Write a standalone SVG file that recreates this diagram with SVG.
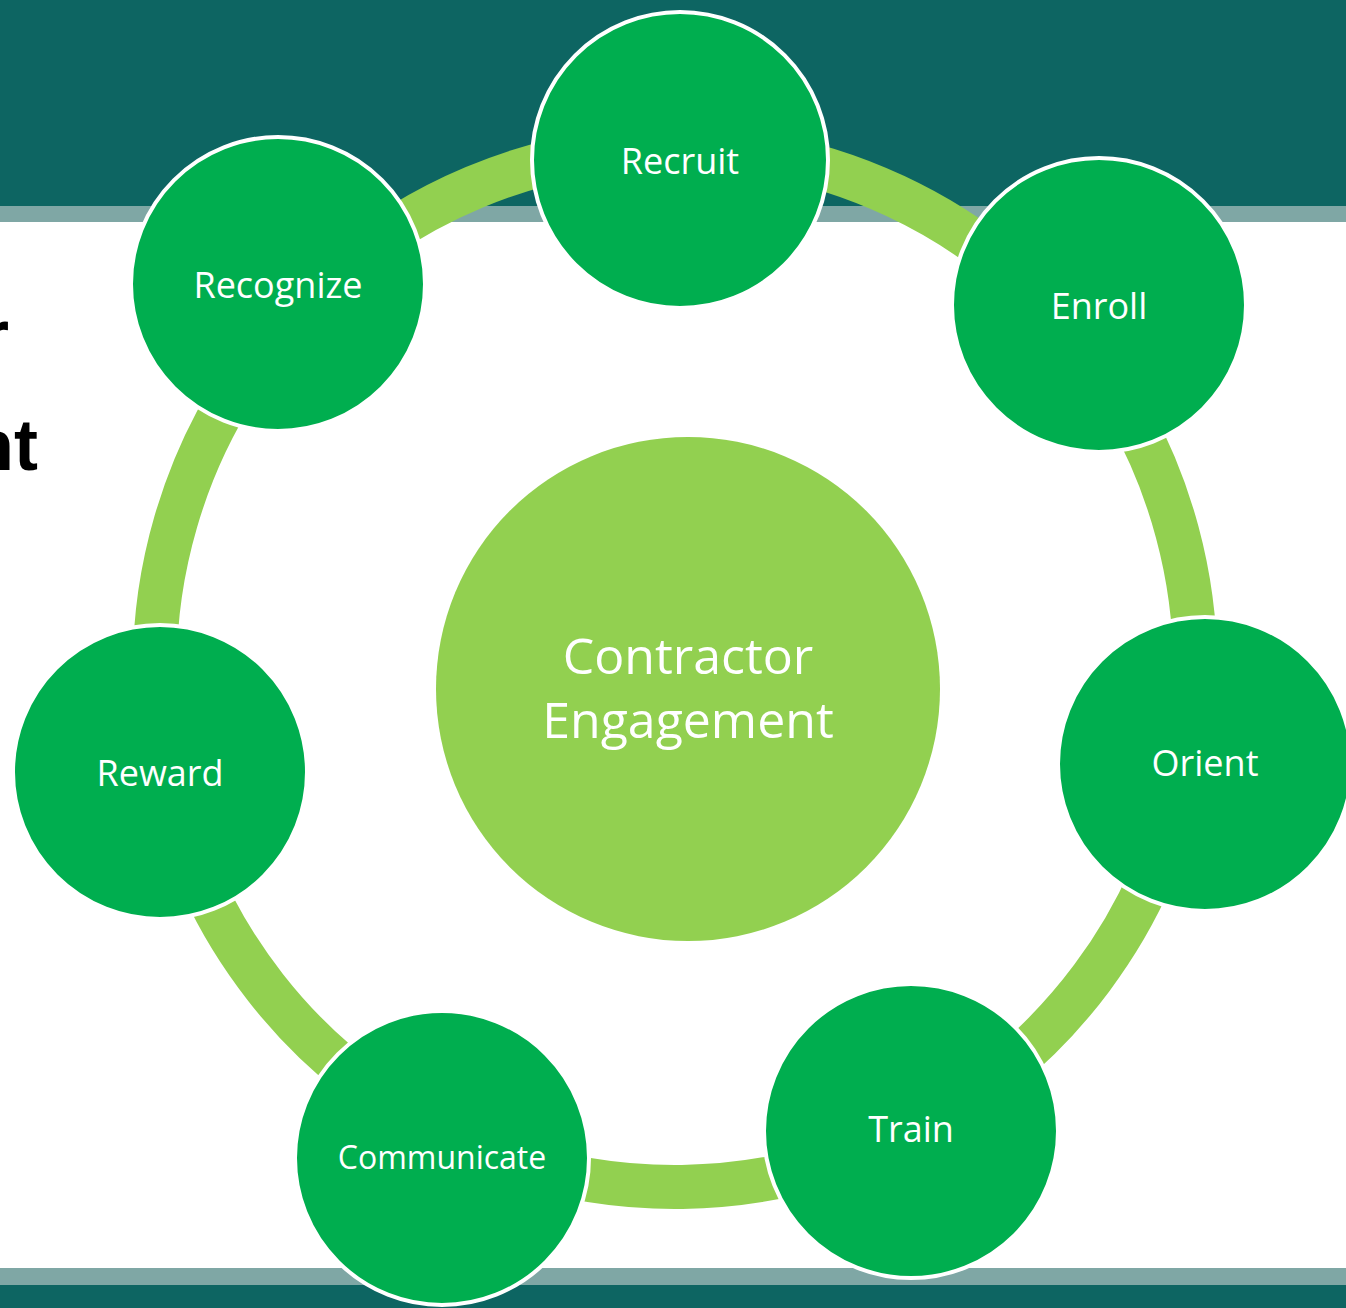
<svg xmlns="http://www.w3.org/2000/svg" width="1346" height="1308" viewBox="0 0 1346 1308">
  <style>
    .band-dark { fill: #0d6562; }
    .band-light { fill: #7fa7a5; }
    .ring { fill: none; stroke: #92d050; stroke-width: 44; }
    .node { fill: #00ae4f; stroke: #ffffff; stroke-width: 4; }
    .hub { fill: #92d050; }
    .label { fill: #ffffff; font-family: "Open Sans", "Noto Sans", sans-serif; text-anchor: middle; }
    .title { fill: #000000; font-family: "Liberation Sans", Arial, sans-serif; font-weight: 700; font-size: 72px; text-anchor: end; }
  </style>

  <!-- page background and header / footer bands -->
  <rect x="0" y="0" width="1346" height="1308" fill="#ffffff"/>
  <rect class="band-dark" x="0" y="0" width="1346" height="206"/>
  <rect class="band-light" x="0" y="206" width="1346" height="16"/>
  <rect class="band-light" x="0" y="1268" width="1346" height="17"/>
  <rect class="band-dark" x="0" y="1285" width="1346" height="23"/>

  <!-- slide title, running off the left edge of the slide -->
  <text class="title" x="9" y="360">r</text>
  <text class="title" x="38" y="470">nt</text>

  <!-- cycle arcs between neighbouring nodes (ring centre 675,667 r 520) -->
  <g id="connectors">
    <path class="ring" d="M 680.4 147.0 A 520 520 0 0 1 1070.4 329.3"/>
    <path class="ring" d="M 1070.4 329.3 A 520 520 0 0 1 1186.5 760.9"/>
    <path class="ring" d="M 1186.5 760.9 A 520 520 0 0 1 911.1 1130.3"/>
    <path class="ring" d="M 911.1 1130.3 A 520 520 0 0 1 451.9 1136.7"/>
    <path class="ring" d="M 451.9 1136.7 A 520 520 0 0 1 165.5 770.7"/>
    <path class="ring" d="M 165.5 770.7 A 520 520 0 0 1 301.0 305.8"/>
    <path class="ring" d="M 301.0 305.8 A 520 520 0 0 1 680.4 147.0"/>
  </g>

  <g id="hub">
    <circle class="hub" cx="688" cy="689" r="252"/>
    <text class="label" x="688" y="674" font-size="50">Contractor</text>
    <text class="label" x="688" y="738" font-size="50">Engagement</text>
  </g>

  <g id="recruit">
    <circle class="node" cx="680" cy="160" r="148"/>
    <text class="label" x="680" y="174" font-size="36">Recruit</text>
  </g>
  <g id="enroll">
    <circle class="node" cx="1099" cy="305" r="147"/>
    <text class="label" x="1099" y="319" font-size="36">Enroll</text>
  </g>
  <g id="orient">
    <circle class="node" cx="1205" cy="764" r="147"/>
    <text class="label" x="1205" y="776" font-size="36">Orient</text>
  </g>
  <g id="train">
    <circle class="node" cx="911" cy="1131" r="147"/>
    <text class="label" x="911" y="1142" font-size="36">Train</text>
  </g>
  <g id="communicate">
    <circle class="node" cx="442" cy="1158" r="147"/>
    <text class="label" x="442" y="1169" font-size="32">Communicate</text>
  </g>
  <g id="reward">
    <circle class="node" cx="160" cy="772" r="147"/>
    <text class="label" x="160" y="786" font-size="36">Reward</text>
  </g>
  <g id="recognize">
    <circle class="node" cx="278" cy="284" r="147"/>
    <text class="label" x="278" y="298" font-size="36">Recognize</text>
  </g>
</svg>
